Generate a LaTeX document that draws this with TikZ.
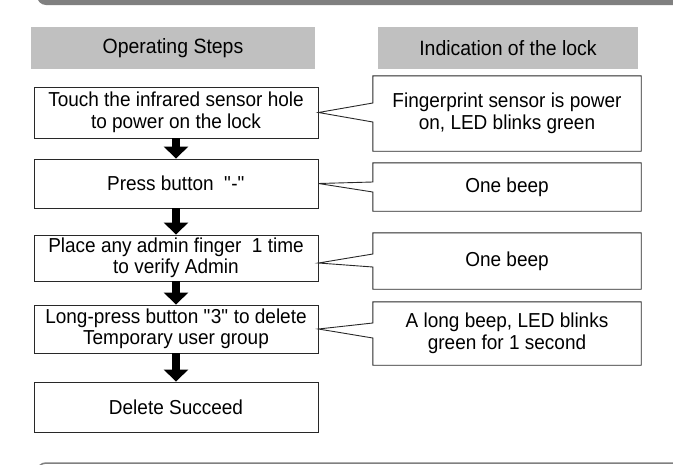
\documentclass[tikz,border=0pt]{standalone}
\usepackage{fontspec}
\setmainfont{Liberation Sans}[FakeStretch=0.94]
\usetikzlibrary{arrows.meta,calc}
\definecolor{barcol}{RGB}{128,128,128}
\definecolor{headcol}{RGB}{192,192,192}
\definecolor{edgecol}{RGB}{40,40,40}
\newcommand\sq{\XeTeXglyph\XeTeXcharglyph"22\relax}
\begin{document}
\begin{tikzpicture}[x=1pt,y=-1pt,
  txt/.style={font=\fontsize{20.2}{21.5}\selectfont, align=center, text=black, inner sep=0pt},
  headbox/.style={txt, font=\fontsize{20.7}{21.5}\selectfont, fill=headcol, draw=none, minimum height=42pt},
  stepbox/.style={txt, draw=edgecol, line width=0.9pt, minimum width=284pt, minimum height=#1},
  infobox/.style={txt, draw=none, minimum width=268pt, minimum height=#1},
  callout/.style={draw=edgecol, line width=0.9pt, line join=miter},
  flowarrow/.style={line width=8pt, draw=black, -{Triangle[width=24pt,length=12pt]}}]
\useasboundingbox (0,0) rectangle (673,464);
\clip (0,0) rectangle (673,464);
% top and bottom bars
\fill[barcol, rounded corners=9pt] (37,-30) rectangle (720,5);
\draw[barcol, line width=1.5pt, rounded corners=9pt] (37,463) rectangle (720,520);
% headers
\node[headbox, minimum width=284pt] (h1) at (173,48) {Operating Steps};
\node[headbox, minimum width=260pt] (h2) at (508,48) {Indication of the lock};
% steps
\node[stepbox=51pt] (b1) at (176,112.5) {Touch the infrared sensor hole\\to power on the lock};
\node[stepbox=49pt] (b2) at (176,183.5) {Press button \ \sq-\sq};
\node[stepbox=46pt] (b3) at (176,258) {Place any admin finger \ 1 time\\to verify Admin};
\node[stepbox=48pt] (b4) at (176,329) {Long-press button \sq3\sq{} to delete\\Temporary user group};
\node[stepbox=50pt] (b5) at (176,407) {Delete Succeed};
% indications
\node[infobox=75pt] (r1) at (507,113.5) {Fingerprint sensor is power\\on, LED blinks green};
\node[infobox=48pt] (r2) at (507,187) {One beep};
\node[infobox=56pt] (r3) at (507,261) {One beep};
\node[infobox=63pt] (r4) at (507,333.5) {A long beep, LED blinks\\green for 1 second};
% callout outlines
\draw[callout] (r1.north west) -- (r1.north east) -- (r1.south east) -- (r1.south west)
  -- ($(r1.west)+(0,8.5)$) -- (b1.east) -- ($(r1.west)+(0,-10.5)$) -- cycle;
\draw[callout] (r2.north west) -- (r2.north east) -- (r2.south east) -- (r2.south west)
  -- ($(r2.west)+(0,5)$) -- (b2.east) -- ($(r2.west)+(0,-5)$) -- cycle;
\draw[callout] (r3.north west) -- (r3.north east) -- (r3.south east) -- (r3.south west)
  -- ($(r3.west)+(0,6)$) -- ($(b3.east)+(0,5)$) -- ($(r3.west)+(0,-7)$) -- cycle;
\draw[callout] (r4.north west) -- (r4.north east) -- (r4.south east) -- (r4.south west)
  -- ($(r4.west)+(0,4.5)$) -- (b4.east) -- ($(r4.west)+(0,-10.5)$) -- cycle;
% flow arrows
\draw[flowarrow] (b1.south) -- (b2.north);
\draw[flowarrow] (b2.south) -- (b3.north);
\draw[flowarrow] (b3.south) -- (b4.north);
\draw[flowarrow] (b4.south) -- (b5.north);
\end{tikzpicture}
\end{document}
